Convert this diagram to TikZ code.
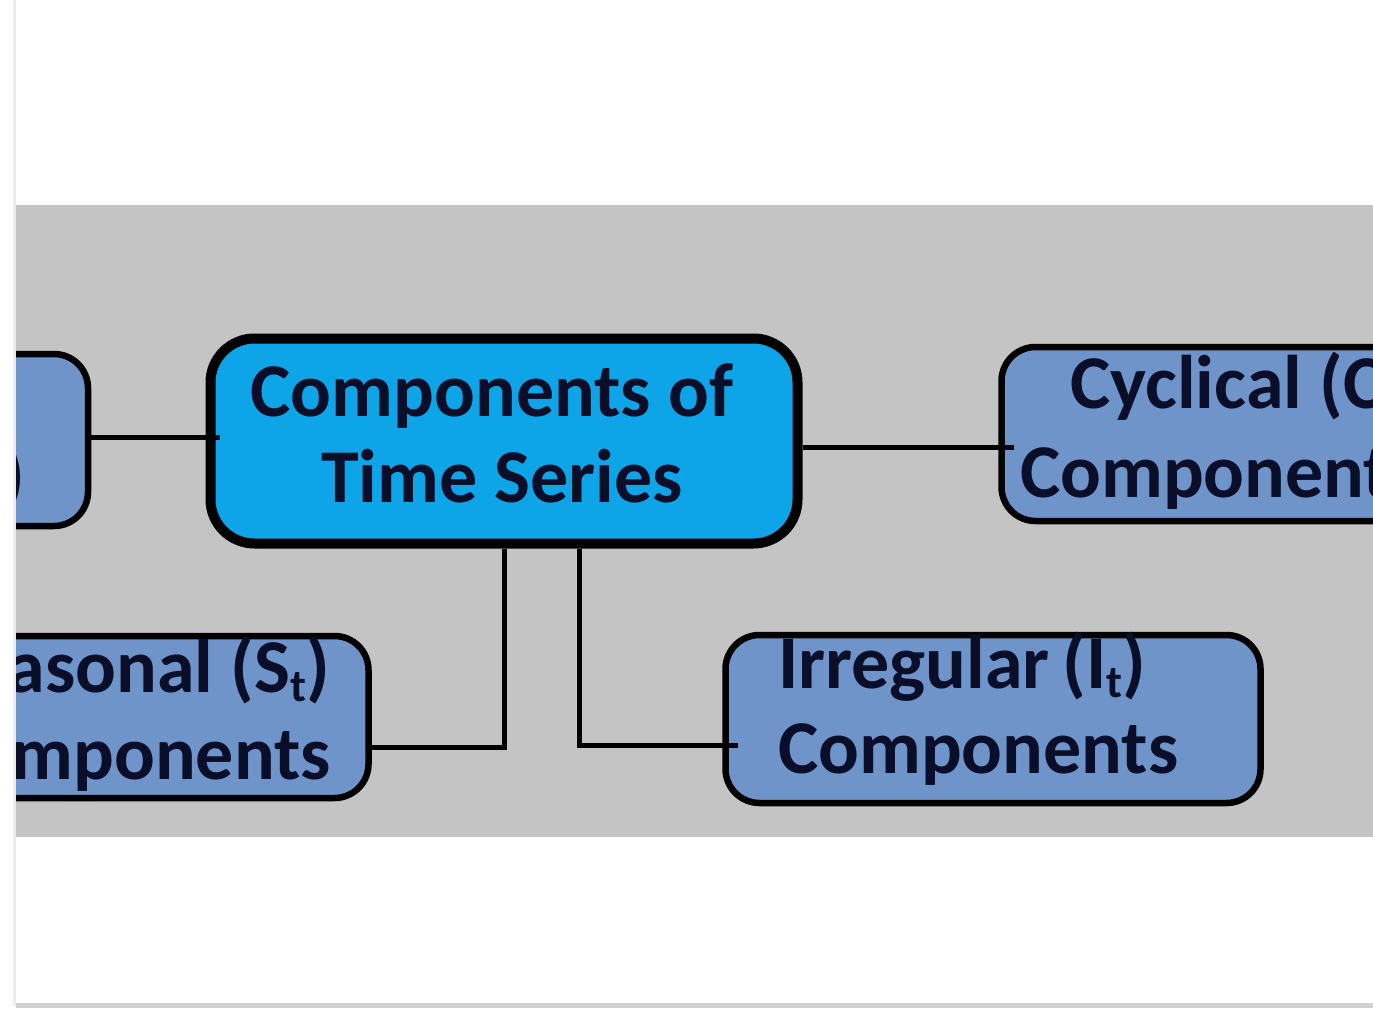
\documentclass[tikz,border=0pt]{standalone}
\usepackage{fontspec}
\setmainfont{Carlito}
\usetikzlibrary{calc}
\definecolor{bandgray}{RGB}{196,196,196}
\definecolor{mainblue}{RGB}{14,164,232}
\definecolor{compblue}{RGB}{110,148,202}
\definecolor{inkc}{RGB}{10,14,40}
\newcommand\subt[1]{\raisebox{-9pt}{\fontsize{46}{46}\selectfont #1}}
\tikzset{
  boxbase/.style={draw=black, rounded corners=34pt, inner sep=0pt},
  mainbox/.style={boxbase, fill=mainblue, line width=10pt, rounded corners=44pt},
  compbox/.style={boxbase, fill=compblue, line width=6.5pt},
  lbl/.style={inner sep=0pt, text=inkc, font=\fontsize{76}{90}\selectfont\bfseries},
  link/.style={draw=black, line width=5pt}
}
\begin{document}
\begin{tikzpicture}[x=1pt,y=-1pt]
\useasboundingbox (0,0) rectangle (1373,1009);
\fill[white] (0,0) rectangle (1373,1009);
\fill[black!7] (13,0) rectangle (16,1006);
\fill[black!18] (16,1003) rectangle (1373,1008);
\fill[bandgray] (16,205) rectangle (1373,837);
\begin{scope}
\clip (16,205) rectangle (1373,837);
\node[compbox, minimum width=388pt, minimum height=172pt] (trend) at (-106,440) {};
\node[mainbox, minimum width=587pt, minimum height=205pt] (center) at (504,441) {};
\node[compbox, minimum width=699pt, minimum height=174pt] (cyc) at (1351,434) {};
\node[compbox, minimum width=667pt, minimum height=162pt] (seas) at (35,717) {};
\node[compbox, minimum width=535pt, minimum height=168pt] (irr) at (993,719) {};
% connectors
\draw[link] ($(trend.east)+(0,-3)$) -- ($(trend.east -| center.west)+(14,-3)$);
\draw[link] ($(center.east)+(0,6)$) -- ($(center.east -| cyc.west)+(16,6)$);
\draw[link] ($(seas.east)+(0,30)$) -| (center.south);
\draw[link] ($(center.south)+(75,0)$) |- ($(irr.west)+(16,26)$);
% texts
\node[lbl, anchor=base] (t1) at (492,416) {Components of};
\node[lbl, anchor=base] (t2) at (502,502) {Time Series};
\node[lbl, anchor=base east] (trendtxt) at (25,500) {Trend (T\subt{t})};
\node[lbl, anchor=base west] (cyc1) at (1070,408) {Cyclical (C\subt{t})};
\node[lbl, anchor=base west] (cyc2) at (1020,497) {Components};
\node[lbl, anchor=base east] (seas1) at (330,692) {Seasonal (S\subt{t})};
\node[lbl, anchor=base east] (seas2) at (331,779) {Components};
\node[lbl, anchor=base west] (irr1) at (778,688) {Irregular\,(I\subt{t})};
\node[lbl, anchor=base west] (irr2) at (778,773) {Components};
\end{scope}
\end{tikzpicture}
\end{document}
